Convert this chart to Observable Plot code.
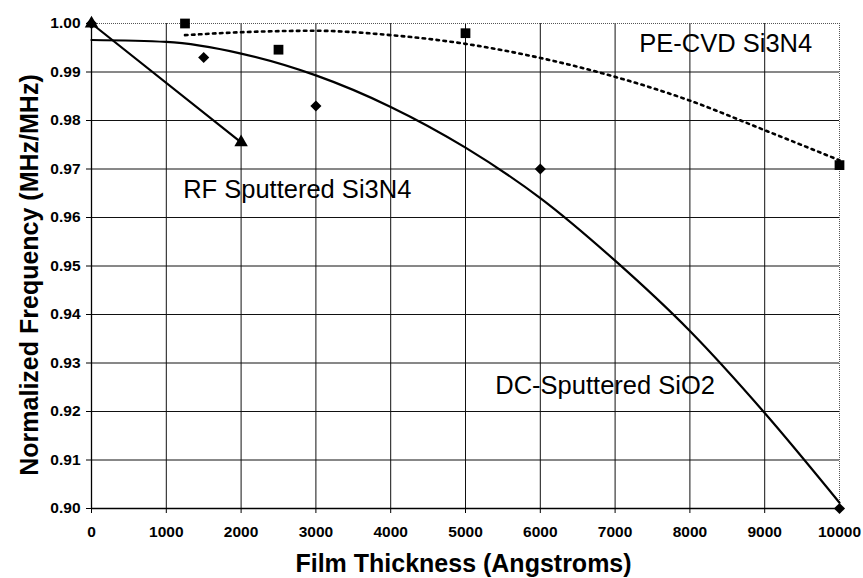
<!DOCTYPE html>
<html><head><meta charset="utf-8">
<script src="https://cdn.jsdelivr.net/npm/d3@7"></script>
<script src="https://cdn.jsdelivr.net/npm/@observablehq/plot@0.6"></script>
<style>body{margin:0;background:#fff} svg{display:block}</style>
</head><body><div id="chart"></div>
<script>
// Axis ticks
const xTicks = [0,1000,2000,3000,4000,5000,6000,7000,8000,9000,10000];
const yTicks = [0.90,0.91,0.92,0.93,0.94,0.95,0.96,0.97,0.98,0.99,1.00];

// Measured points
const dcX = [0,1500,3000,6000,10000];
const dcY = [1.000,0.993,0.983,0.970,0.900];
const peX = [1250,2500,5000,10000];
const peY = [1.000,0.9946,0.998,0.9708];
const rfX = [0,2000];
const rfY = [1.000,0.9755];

// Trend lines
const dcFitX = [0,1000,2000,3000,4000,5000,6000,7000,8000,9000,10000];
const dcFitY = [0.9966,0.9962,0.9938,0.9893,0.9828,0.9744,0.9640,0.9511,0.9366,0.9197,0.9012];
const peFitX = [1250,2000,3000,4000,5000,6000,7000,8000,9000,10000];
const peFitY = [0.9976,0.9982,0.9985,0.9976,0.9958,0.9929,0.9890,0.9841,0.9780,0.9718];

// Annotations
const labelText = ["PE-CVD Si3N4","RF Sputtered Si3N4","DC-Sputtered SiO2"];
const labelX = [7324,1225,5398];
const labelY = [0.9942,0.9641,0.9237];

const zip = (xs, ys) => xs.map((x,i) => ({x, y: ys[i]}));
const dc = zip(dcX, dcY), pe = zip(peX, peY), rf = zip(rfX, rfY);
const dcFit = zip(dcFitX, dcFitY), peFit = zip(peFitX, peFitY);
const labels = labelText.map((t,i) => ({t, x: labelX[i], y: labelY[i]}));

const font = "'Liberation Sans', Arial, sans-serif";
const chart = Plot.plot({
  width: 863, height: 578,
  marginLeft: 91, marginRight: 24, marginTop: 23, marginBottom: 70,
  style: {fontFamily: font, background: "#fff", color: "#000"},
  x: {domain: [0,10000]},
  y: {domain: [0.90,1.00]},
  marks: [
    Plot.ruleX(xTicks.filter(d => d > 0 && d < 10000), {stroke: "#111", strokeWidth: 1}),
    Plot.ruleY(yTicks.filter(d => d > 0.9001 && d < 0.9999), {stroke: "#111", strokeWidth: 1}),
    Plot.ruleX([10000], {stroke: "#555", strokeWidth: 1, strokeDasharray: "1,1"}),
    Plot.ruleY([1.00], {stroke: "#555", strokeWidth: 1, strokeDasharray: "1,1"}),
    Plot.axisX({ticks: xTicks, tickFormat: d => String(d), tickSize: 5, tickPadding: 12, fontSize: 15.5, fontWeight: "bold", label: null, stroke: "#000"}),
    Plot.axisY({ticks: yTicks, tickFormat: d3.format(".2f"), tickSize: 5, tickPadding: 6, fontSize: 15.5, fontWeight: "bold", label: null, stroke: "#000"}),
    Plot.ruleX([0], {stroke: "#000", strokeWidth: 1.3}),
    Plot.ruleY([0.90], {stroke: "#000", strokeWidth: 1.3}),
    Plot.line(dcFit, {x: "x", y: "y", curve: "monotone-x", stroke: "#000", strokeWidth: 2.2}),
    Plot.line(peFit, {x: "x", y: "y", curve: "monotone-x", stroke: "#000", strokeWidth: 2.6, strokeDasharray: "2.5,4.5"}),
    Plot.line(rf, {x: "x", y: "y", stroke: "#000", strokeWidth: 2.2}),
    Plot.dot(dc, {x: "x", y: "y", symbol: "diamond2", r: 5, fill: "#000", stroke: "none"}),
    Plot.dot(pe, {x: "x", y: "y", symbol: "square", r: 5.5, fill: "#000", stroke: "none"}),
    Plot.dot(rf, {x: "x", y: "y", symbol: "triangle", r: 5, fill: "#000", stroke: "none"}),
    Plot.text(labels, {x: "x", y: "y", text: "t", textAnchor: "start", lineAnchor: "bottom", fontSize: 25.5, fill: "#000"}),
    Plot.text(["Film Thickness (Angstroms)"], {frameAnchor: "bottom", textAnchor: "middle", dx: -2, dy: 63, lineAnchor: "bottom", fontSize: 25, fontWeight: "bold", fill: "#000"}),
    Plot.text(["Normalized Frequency (MHz/MHz)"], {frameAnchor: "left", textAnchor: "middle", dx: -54, dy: 9, rotate: -90, lineAnchor: "bottom", fontSize: 25, fontWeight: "bold", fill: "#000"})
  ]
});
document.getElementById("chart").append(chart);
</script>
</body></html>
